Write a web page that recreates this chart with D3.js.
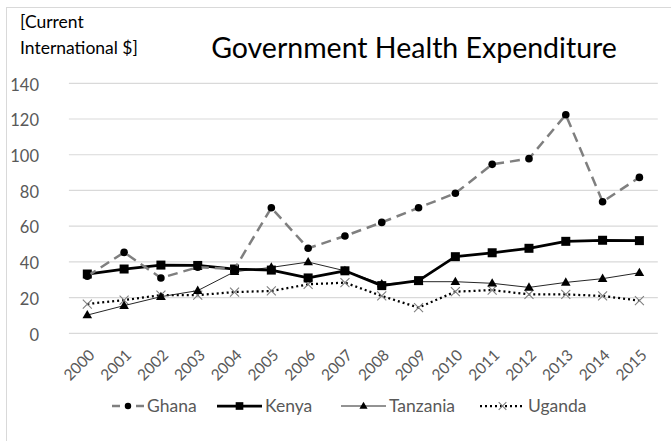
<!DOCTYPE html>
<html><head><meta charset="utf-8">
<script src="https://cdn.jsdelivr.net/npm/d3@7/dist/d3.min.js"></script>
<style>body{margin:0;background:#fff}svg{display:block}text{font-family:Lato,"Open Sans",sans-serif}</style>
</head><body>
<svg id="c" width="671" height="441"></svg>
<script>
const years = ["2000","2001","2002","2003","2004","2005","2006","2007","2008","2009","2010","2011","2012","2013","2014","2015"];
const ghana = [32,45.3,31,37,36,70.3,47.6,54.5,62.1,70.3,78.4,94.6,97.8,122.4,73.7,87.3];
const kenya = [33.2,36,38.2,38,36,35.4,31,35,26.7,29.5,42.9,45.1,47.6,51.5,52.1,51.9];
const tanzania = [10.2,15.5,20.5,23.9,34.5,36.9,39.9,35,27.6,28.9,28.9,28,25.7,28.5,30.6,33.9];
const uganda = [16.4,18.6,21.4,21.4,23.1,23.7,27.4,28.4,20.9,14.4,23.3,24.2,21.8,21.8,20.9,18.3];
const yTicks = [0,20,40,60,80,100,120,140];
const seriesNames = ["Ghana","Kenya","Tanzania","Uganda"];

const svg = d3.select("#c");
svg.append("rect").attr("x",6.5).attr("y",7.5).attr("width",700).attr("height",500)
  .attr("fill","#fff").attr("stroke","#d9d9d9");

const x = d3.scalePoint().domain(years).range([68.9,657.8]).padding(0.5);
const y = d3.scaleLinear().domain([0,140]).range([333.3,83.3]);

// gridlines
svg.append("g").selectAll("line").data(yTicks).join("line")
  .attr("x1",68.9).attr("x2",657.8).attr("y1",d=>y(d)).attr("y2",d=>y(d))
  .attr("stroke","#d9d9d9").attr("stroke-width",1.2);

// y axis
const yAxis = d3.axisLeft(y).tickValues(yTicks).tickSize(0).tickPadding(0);
const ga = svg.append("g").attr("transform","translate(39,1.5)").call(yAxis);
ga.select(".domain").remove();
ga.selectAll("text").attr("font-size",16.5).attr("fill","#595959").attr("font-family","Lato");

// x axis
const xAxis = d3.axisBottom(x).tickSize(0);
const gx = svg.append("g").attr("transform","translate(0,333.3)").call(xAxis);
gx.select(".domain").remove();
gx.selectAll("text").attr("font-size",15.5).attr("fill","#595959").attr("font-family","Lato")
  .attr("text-anchor","end").attr("dy","0.35em")
  .attr("transform","translate(4,19) rotate(-45)").attr("y",0).attr("x",0);

// title
svg.append("text").attr("x",414).attr("y",58).attr("text-anchor","middle")
  .attr("font-size",28.5).attr("fill","#000").text("Government Health Expenditure");
svg.append("text").attr("x",20).attr("y",28).attr("font-size",17.5).attr("fill","#000").text("[Current");
svg.append("text").attr("x",20).attr("y",54).attr("font-size",17.5).attr("fill","#000").text("International $]");

const line = d3.line().x((d,i)=>x(years[i])).y(d=>y(d));
const styles = [
  {data:ghana, stroke:"#7f7f7f", w:2.5, dash:"10,6", marker:"circle"},
  {data:kenya, stroke:"#000", w:2.75, dash:null, marker:"square"},
  {data:tanzania, stroke:"#262626", w:1, dash:null, marker:"triangle"},
  {data:uganda, stroke:"#000", w:2.25, dash:"2,3", marker:"x"}
];

function drawMarker(g, type, cx, cy, scale){
  const s = scale||1;
  if(type==="circle") g.append("circle").attr("cx",cx).attr("cy",cy).attr("r",3.8*s).attr("fill","#000");
  else if(type==="square") g.append("rect").attr("x",cx-4.5*s).attr("y",cy-4.5*s).attr("width",9*s).attr("height",9*s).attr("fill","#000");
  else if(type==="triangle") g.append("path").attr("d",d3.symbol(d3.symbolTriangle,40*s*s)()).attr("transform",`translate(${cx},${cy+0.5})`).attr("fill","#000");
  else if(type==="x") g.append("path").attr("d",`M${cx-4.5*s},${cy-4.5*s}L${cx+4.5*s},${cy+4.5*s}M${cx-4.5*s},${cy+4.5*s}L${cx+4.5*s},${cy-4.5*s}`).attr("stroke","#7f7f7f").attr("stroke-width",1.1).attr("fill","none");
}

const order = [3,2,1,0];
order.forEach(k=>{
  const st = styles[k];
  svg.append("path").datum(st.data).attr("d",line).attr("fill","none")
    .attr("stroke",st.stroke).attr("stroke-width",st.w)
    .attr("stroke-dasharray",st.dash).attr("stroke-linejoin","round");
  const g = svg.append("g");
  st.data.forEach((v,i)=>drawMarker(g,st.marker,x(years[i]),y(v)));
});

// legend
const legX = [99,217,341,480];
const leg = svg.append("g");
seriesNames.forEach((name,k)=>{
  const st = styles[k];
  const lx = legX[k], ly = 406;
  if(k===0){
    leg.append("line").attr("x1",112).attr("x2",144).attr("y1",ly).attr("y2",ly)
      .attr("stroke",st.stroke).attr("stroke-width",st.w).attr("stroke-dasharray","8,16");
    drawMarker(leg, st.marker, 128, ly, 0.85);
  } else {
    leg.append("line").attr("x1",lx).attr("x2",lx+45).attr("y1",ly).attr("y2",ly)
      .attr("stroke",st.stroke).attr("stroke-width",st.w).attr("stroke-dasharray",st.dash);
    drawMarker(leg, st.marker, lx+22.5, ly, 0.85);
  }
  leg.append("text").attr("x",lx+48).attr("y",ly).attr("dy","0.35em").attr("font-size",17.5)
    .attr("fill","#595959").text(name);
});
</script>
</body></html>
